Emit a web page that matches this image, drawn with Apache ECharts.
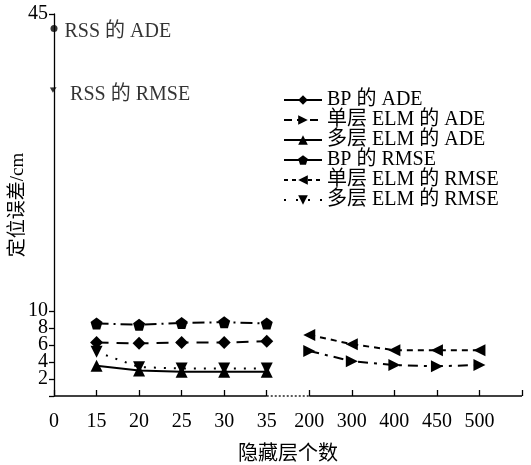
<!DOCTYPE html>
<html><head><meta charset="utf-8">
<script src="https://cdn.jsdelivr.net/npm/echarts@6/dist/echarts.min.js"></script>
<style>html,body{margin:0;padding:0;background:#fff}#c{width:531px;height:465px}</style>
</head><body><div id="c"></div>
<script>
const xLabels = ['0','15','20','25','30','35','200','300','400','450','500',''];
const yLabels = [0,2,4,6,8,10,45];
const idxSmall = [1,2,3,4,5];
const idxLarge = [6,7,8,9,10];
const bpADE = [6.3,6.2,6.3,6.3,6.45];
const bpRMSE = [8.55,8.4,8.6,8.7,8.55];
const sELMADE = [5.3,4.1,3.65,3.5,3.65];
const sELMRMSE = [7.2,6.1,5.4,5.4,5.4];
const mELMADE = [3.55,3.0,2.85,2.85,2.85];
const mELMRMSE = [5.2,3.4,3.25,3.25,3.25];
const rssADE = 43.3;
const rssRMSE = 36.2;
const names = ['BP 的 ADE','单层 ELM 的 ADE','多层 ELM 的 ADE','BP 的 RMSE','单层 ELM 的 RMSE','多层 ELM 的 RMSE'];

const FONT = "'Liberation Serif','Noto Sans CJK SC',serif";
const FS = 20;
const pent = 'path://M50,0 L100,38 L81,100 L19,100 L0,38 Z';
function pair(idx, vals){ return idx.map((x,i)=>[x, vals[i]]); }
function line(name, idx, vals, symbol, rot, dash, size){
  return {name, type:'line', data:pair(idx, vals), symbol, symbolRotate:rot, symbolSize:size||12,
    lineStyle:{color:'#000', width:2, type:dash}, itemStyle:{color:'#000'}, z:3};
}
function seg(data, dash){
  return {type:'line', data, symbol:'none', silent:true, clip:false, legendHoverLink:false,
    lineStyle:{color:'#000', width:1.3, type:dash}, z:1};
}
const lbl = {fontFamily:FONT, fontSize:FS, color:'#000', textBorderWidth:0};
const chart = echarts.init(document.getElementById('c'), null, {renderer:'canvas'});
chart.setOption({
  animation:false,
  textStyle:{fontFamily:FONT, color:'#000'},
  grid:{left:54, right:9, top:14, bottom:69, outerBoundsMode:'none'},
  xAxis:{type:'value', min:0, max:11, interval:1,
    name:'隐藏层个数', nameLocation:'middle', nameGap:49, nameMoveOverlap:false,
    nameTextStyle:{fontFamily:FONT, fontSize:FS, color:'#000'},
    axisLine:{show:false},
    axisTick:{inside:true, length:6, lineStyle:{color:'#000', width:1.3}},
    axisLabel:{fontFamily:FONT, fontSize:FS, color:'#000', margin:16, hideOverlap:false, formatter:v=>xLabels[v]},
    splitLine:{show:false}},
  yAxis:{type:'value', min:0, max:45,
    name:'定位误差/cm', nameLocation:'middle', nameGap:26, nameMoveOverlap:false,
    nameTextStyle:{fontFamily:FONT, fontSize:19, color:'#000'},
    axisLine:{show:true, lineStyle:{color:'#000', width:1.3}},
    axisTick:{show:true, length:5, customValues:yLabels, lineStyle:{color:'#000', width:1.3}},
    axisLabel:{fontFamily:FONT, fontSize:FS, color:'#000', margin:6, lineHeight:16, hideOverlap:false,
      customValues:yLabels, formatter:v=>(v===0?'':String(v))},
    splitLine:{show:false}},
  legend:{orient:'vertical', left:278, top:85, itemWidth:38, itemHeight:12, itemGap:0,
    textStyle:{fontFamily:FONT, fontSize:FS, color:'#000', lineHeight:20},
    data:[
      {name:names[0], lineStyle:{type:'solid'}},
      {name:names[1], lineStyle:{type:[8,5]}},
      {name:names[2], lineStyle:{type:'solid'}},
      {name:names[3], lineStyle:{type:'solid'}},
      {name:names[4], lineStyle:{type:[4,4]}},
      {name:names[5], lineStyle:{type:[2,10]}}
    ]},
  series:[
    line(names[0], idxSmall, bpADE, 'diamond', 0, [12,8], 13),
    line(names[1], idxLarge, sELMADE, 'triangle', -90, [10,6,3,6], 12),
    line(names[2], idxSmall, mELMADE, 'triangle', 0, 'solid', 12),
    line(names[3], idxSmall, bpRMSE, pent, 0, [12,5,2,5], 12),
    line(names[4], idxLarge, sELMRMSE, 'triangle', 90, [6,5], 12),
    line(names[5], idxSmall, mELMRMSE, 'triangle', 180, [2,8], 12),
    {type:'scatter', data:[[0, rssADE]], symbol:'circle', symbolSize:7, clip:false, itemStyle:{color:'#000'},
      label:Object.assign({show:true, position:'right', distance:7, offset:[0,3], formatter:'RSS 的 ADE'}, lbl)},
    {type:'scatter', data:[[0, rssRMSE]], symbol:'triangle', symbolRotate:-60, symbolSize:6, clip:false, itemStyle:{color:'#000'},
      label:Object.assign({show:true, position:'right', distance:12, offset:[0,6], formatter:'RSS 的 RMSE'}, lbl)},
    seg([[0,0],[5,0]], 'solid'),
    seg([[5,0],[6,0]], [2,2]),
    seg([[6,0],[11,0]], 'solid')
  ]
});
</script></body></html>
